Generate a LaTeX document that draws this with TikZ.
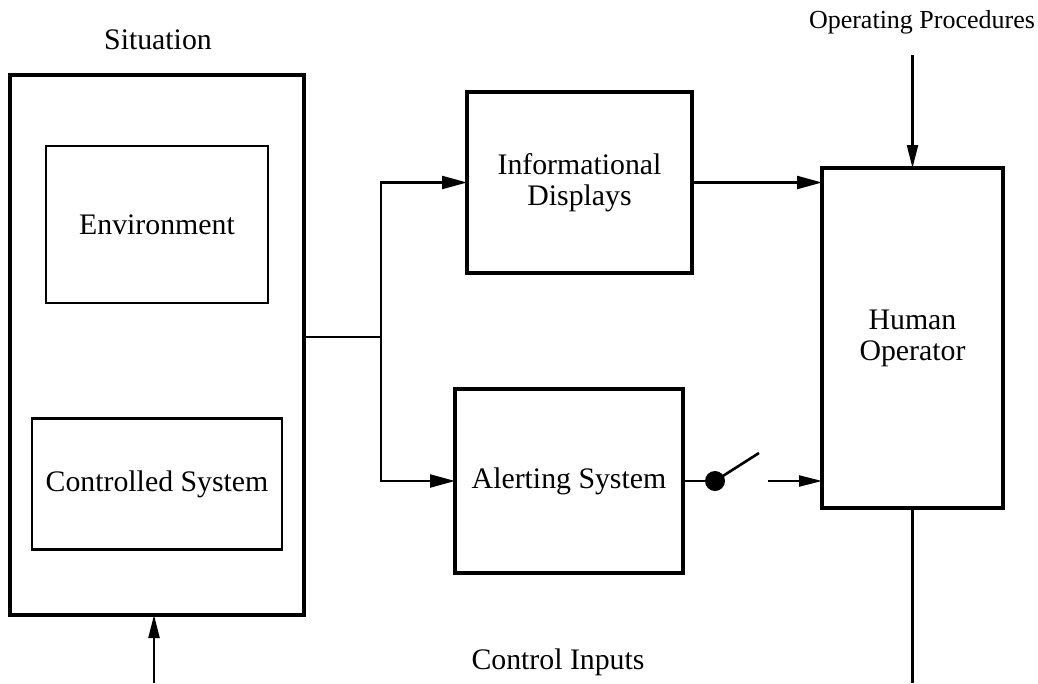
\documentclass[tikz,border=0pt]{standalone}
\usepackage{fontspec}
\setmainfont{Liberation Serif}
\usetikzlibrary{arrows.meta,calc}
\begin{document}
\begin{tikzpicture}[x=1pt,y=-1pt,
  txt/.style={font=\fontsize{29.8}{31}\selectfont, inner sep=0pt, align=center},
  bigbox/.style={txt, draw, line width=3.5pt, outer sep=0pt},
  innerbox/.style={txt, draw, line width=2.8pt, outer sep=0pt},
  conn/.style={line width=2.2pt},
  arr/.style={conn, -{Triangle[length=25pt,width=13pt]}},
  sarr/.style={conn, -{Triangle[length=23pt,width=11pt]}}]
\useasboundingbox (0,0) rectangle (1038,683);
% boxes
\node[bigbox, minimum width=294pt, minimum height=540pt] (sit) at (157,345) {};
\node[innerbox, minimum width=222pt, minimum height=157pt] (env) at (157,224.5) {Environment};
\node[innerbox, minimum width=250pt, minimum height=131pt] (ctl) at (157,484) {Controlled System};
\node[bigbox, minimum width=225pt, minimum height=181pt] (info) at (579.5,182.5) {Informational\\Displays};
\node[bigbox, minimum width=228pt, minimum height=184pt] (alert) at (569,481) {Alerting System};
\node[bigbox, minimum width=181pt, minimum height=340pt] (ho) at (912.5,338) {Human\\Operator};
% labels
\node[txt] (sitlbl) at (158,40) {Situation};
\node[txt, font=\fontsize{26}{28}\selectfont] (oplbl) at (922,22) {Operating Procedures};
\node[txt] (cilbl) at (558,662) {Control Inputs};
% coordinates
\coordinate (j) at (381,337);
\coordinate (optop) at (912.5,55);
\coordinate (cin) at (154,683);
\coordinate (hobot) at (912.5,683);
\coordinate (lever) at (759,453);
\coordinate (astart) at (768,481);
% switch
\node[circle, fill, minimum size=20pt, inner sep=0pt] (sw) at (715,481) {};
% connectors
\draw[conn] (sit.east |- j) -- (j);
\draw[arr] (j) |- (info.west);
\draw[arr] (j) |- (alert.west);
\draw[arr] (info.east) -- (ho.west |- info.east);
\draw[sarr] (optop) -- (ho.north);
\draw[conn] (ho.south) -- (hobot);
\draw[sarr] (cin) -- (cin |- sit.south);
\draw[conn] (alert.east) -- (sw);
\draw[conn, line width=2.6pt] (sw.center) -- (lever);
\draw[sarr] (astart) -- (ho.west |- astart);
\end{tikzpicture}
\end{document}
